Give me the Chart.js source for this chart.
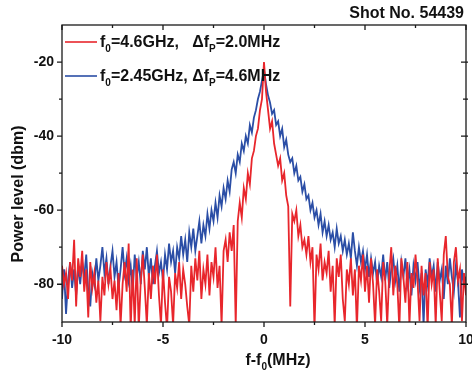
<!DOCTYPE html>
<html><head><meta charset="utf-8">
<script src="https://cdn.jsdelivr.net/npm/chart.js@4/dist/chart.umd.min.js"></script>
<style>html,body{margin:0;padding:0;background:#fff;}#wrap{width:472px;height:376px;}</style>
</head><body><div id="wrap"><canvas id="c" width="472" height="376"></canvas></div>
<script>
const freqMHz = [
-10,-9.9,-9.8,-9.7,-9.6,-9.5,-9.4,-9.3,-9.2,-9.1,
-9,-8.9,-8.8,-8.7,-8.6,-8.5,-8.4,-8.3,-8.2,-8.1,
-8,-7.9,-7.8,-7.7,-7.6,-7.5,-7.4,-7.3,-7.2,-7.1,
-7,-6.9,-6.8,-6.7,-6.6,-6.5,-6.4,-6.3,-6.2,-6.1,
-6,-5.9,-5.8,-5.7,-5.6,-5.5,-5.4,-5.3,-5.2,-5.1,
-5,-4.9,-4.8,-4.7,-4.6,-4.5,-4.4,-4.3,-4.2,-4.1,
-4,-3.9,-3.8,-3.7,-3.6,-3.5,-3.4,-3.3,-3.2,-3.1,
-3,-2.9,-2.8,-2.7,-2.6,-2.5,-2.4,-2.3,-2.2,-2.1,
-2,-1.9,-1.8,-1.7,-1.6,-1.5,-1.4,-1.3,-1.2,-1.1,
-1,-0.9,-0.8,-0.7,-0.6,-0.5,-0.4,-0.3,-0.2,-0.1,
0,0.1,0.2,0.3,0.4,0.5,0.6,0.7,0.8,0.9,
1,1.1,1.2,1.3,1.4,1.5,1.6,1.7,1.8,1.9,
2,2.1,2.2,2.3,2.4,2.5,2.6,2.7,2.8,2.9,
3,3.1,3.2,3.3,3.4,3.5,3.6,3.7,3.8,3.9,
4,4.1,4.2,4.3,4.4,4.5,4.6,4.7,4.8,4.9,
5,5.1,5.2,5.3,5.4,5.5,5.6,5.7,5.8,5.9,
6,6.1,6.2,6.3,6.4,6.5,6.6,6.7,6.8,6.9,
7,7.1,7.2,7.3,7.4,7.5,7.6,7.7,7.8,7.9,
8,8.1,8.2,8.3,8.4,8.5,8.6,8.7,8.8,8.9,
9,9.1,9.2,9.3,9.4,9.5,9.6,9.7,9.8,9.9,
10];

// f0 = 4.6 GHz (red)
const redLevel = [
-75,-80,-77,-84,-74,-79,-68,-86,-73,-78,
-71,-82,-76,-89,-74,-81,-77,-85,-79,-90,
-78,-83,-74,-80,-76,-84,-79,-87,-77,-91,
-80,-74,-82,-69,-92,-76,-91,-73,-92,-79,
-72,-81,-91,-77,-84,-75,-80,-72,-83,-91,
-76,-85,-92,-78,-82,-91,-77,-81,-74,-84,
-76,-80,-86,-91,-75,-82,-73,-79,-71,-84,
-76,-80,-72,-83,-74,-78,-70,-81,-75,-91,
-71,-68,-74,-66,-71,-64,-91,-63,-58,-62,
-54,-57,-50,-53,-46,-44,-40,-38,-33,-30,
-20,-28,-33,-38,-36,-42,-45,-48,-46,-52,
-50,-56,-59,-86,-61,-63,-60,-67,-64,-70,
-68,-72,-67,-74,-70,-92,-72,-76,-69,-79,
-74,-77,-71,-82,-75,-91,-73,-78,-72,-84,
-90,-76,-80,-73,-83,-76,-92,-75,-79,-72,
-82,-75,-85,-73,-80,-91,-76,-82,-90,-74,
-79,-91,-77,-70,-83,-75,-80,-92,-73,-78,
-85,-74,-91,-77,-81,-72,-79,-90,-75,-83,
-77,-92,-74,-80,-76,-91,-73,-82,-90,-72,
-67,-78,-80,-91,-74,-70,-79,-76,-90,-77,
-83];

// f0 = 2.45 GHz (blue)
const blueLevel = [
-84,-76,-88,-79,-74,-81,-76,-83,-75,-80,
-74,-78,-72,-82,-86,-77,-80,-73,-79,-75,
-70,-77,-73,-80,-75,-71,-78,-74,-81,-76,
-70,-77,-73,-79,-75,-82,-72,-78,-74,-80,
-71,-76,-70,-78,-73,-80,-75,-71,-77,-74,
-79,-72,-76,-69,-74,-71,-77,-70,-73,-67,
-72,-68,-74,-66,-70,-65,-71,-67,-63,-69,
-64,-67,-61,-65,-60,-63,-58,-62,-56,-59,
-54,-57,-52,-55,-49,-47,-50,-45,-47,-42,
-44,-40,-42,-37,-39,-35,-33,-30,-28,-25,
-22,-26,-29,-31,-34,-33,-37,-36,-40,-38,
-43,-41,-45,-47,-46,-50,-48,-52,-51,-55,
-53,-57,-56,-60,-58,-62,-60,-64,-61,-66,
-63,-67,-64,-68,-66,-70,-65,-69,-67,-71,
-68,-72,-69,-73,-66,-71,-75,-70,-74,-71,
-76,-72,-78,-73,-77,-74,-80,-75,-78,-72,
-79,-74,-81,-76,-73,-79,-75,-82,-74,-78,
-73,-80,-76,-83,-75,-79,-74,-81,-77,-91,
-76,-80,-73,-78,-75,-82,-74,-79,-76,-84,
-75,-80,-73,-78,-82,-75,-79,-89,-76,-80,
-78];

const xMajorTicks = [-10, -5, 0, 5, 10];
const xMinorTicks = [-7.5, -2.5, 2.5, 7.5];
const yMajorTicks = [-20, -40, -60, -80];
const yMinorTicks = [-30, -50, -70];

const chartTitle = 'Shot No. 54439';
const redLegend = [['f'], ['0', 1], ['=4.6GHz,   \u0394f'], ['P', 1], ['=2.0MHz']];
const blueLegend = [['f'], ['0', 1], ['=2.45GHz, \u0394f'], ['P', 1], ['=4.6MHz']];
const xTitle = [['f-f'], ['0', 1], ['(MHz)']];
const yTitle = 'Power level (dbm)';

const RED = '#e8262c';
const BLUE = '#2b4ea6';
const FONT = '"Liberation Sans", Arial, sans-serif';

function pts(vals) { return freqMHz.map((f, i) => ({x: f, y: vals[i]})); }

function richWidth(ctx, segs, size) {
  let w = 0;
  for (const s of segs) {
    ctx.font = 'bold ' + (s[1] ? Math.round(size * 0.6) : size) + 'px ' + FONT;
    w += ctx.measureText(s[0]).width;
  }
  return w;
}
function drawRich(ctx, segs, x, y, size, align) {
  let w = richWidth(ctx, segs, size);
  let cx = align === 'center' ? x - w / 2 : (align === 'right' ? x - w : x);
  ctx.textBaseline = 'alphabetic';
  ctx.textAlign = 'left';
  for (const s of segs) {
    const sz = s[1] ? Math.round(size * 0.6) : size;
    ctx.font = 'bold ' + sz + 'px ' + FONT;
    ctx.fillText(s[0], cx, s[1] ? y + size * 0.3 : y);
    cx += ctx.measureText(s[0]).width;
  }
}

const decor = {
  id: 'decor',
  afterDraw(chart) {
    const ctx = chart.ctx;
    const a = chart.chartArea;
    const xs = chart.scales.x, ys = chart.scales.y;
    ctx.save();
    ctx.strokeStyle = '#1a1a1a';
    ctx.lineWidth = 1.3;
    ctx.strokeRect(a.left, a.top, a.right - a.left, a.bottom - a.top);
    ctx.beginPath();
    const tick = (vals, len) => {
      for (const v of vals) {
        const px = xs.getPixelForValue(v);
        ctx.moveTo(px, a.bottom); ctx.lineTo(px, a.bottom + len);
        ctx.moveTo(px, a.top); ctx.lineTo(px, a.top + len);
      }
    };
    tick(xMajorTicks, 5); tick(xMinorTicks, 3);
    const ytick = (vals, len) => {
      for (const v of vals) {
        const py = ys.getPixelForValue(v);
        ctx.moveTo(a.left, py); ctx.lineTo(a.left - len, py);
        ctx.moveTo(a.right + 2, py); ctx.lineTo(a.right - len, py);
      }
    };
    ytick(yMajorTicks, 5); ytick(yMinorTicks, 3);
    ctx.stroke();

    ctx.fillStyle = '#111';
    ctx.font = 'bold 14px ' + FONT;
    ctx.textAlign = 'center';
    ctx.textBaseline = 'middle';
    for (const v of xMajorTicks) ctx.fillText(String(v), xs.getPixelForValue(v), 340);
    ctx.textAlign = 'right';
    for (const v of yMajorTicks) ctx.fillText(String(v), 54, ys.getPixelForValue(v));

    ctx.font = 'bold 16px ' + FONT;
    ctx.textAlign = 'right';
    ctx.textBaseline = 'alphabetic';
    ctx.fillText(chartTitle, 464, 18);

    // legend
    ctx.lineWidth = 1.6;
    ctx.strokeStyle = RED;
    ctx.beginPath(); ctx.moveTo(65, 42); ctx.lineTo(97, 42); ctx.stroke();
    ctx.strokeStyle = BLUE;
    ctx.beginPath(); ctx.moveTo(65, 76); ctx.lineTo(97, 76); ctx.stroke();
    ctx.fillStyle = '#111';
    drawRich(ctx, redLegend, 100, 47, 16, 'left');
    drawRich(ctx, blueLegend, 100, 81, 16, 'left');

    // axis titles
    drawRich(ctx, xTitle, 278, 365, 16, 'center');
    ctx.save();
    ctx.translate(23, 194);
    ctx.rotate(-Math.PI / 2);
    ctx.font = 'bold 16px ' + FONT;
    ctx.textAlign = 'center';
    ctx.textBaseline = 'alphabetic';
    ctx.fillText(yTitle, 0, 0);
    ctx.restore();
    ctx.restore();
  }
};

new Chart(document.getElementById('c'), {
  type: 'line',
  data: {
    datasets: [
      {data: pts(redLevel), borderColor: RED, borderWidth: 1.8, pointRadius: 0, tension: 0, fill: false},
      {data: pts(blueLevel), borderColor: BLUE, borderWidth: 1.8, pointRadius: 0, tension: 0, fill: false}
    ]
  },
  options: {
    responsive: false,
    animation: false,
    devicePixelRatio: 1,
    layout: {padding: {left: 0, top: 25, right: 6, bottom: 0}},
    plugins: {legend: {display: false}, tooltip: {enabled: false}, title: {display: false}},
    scales: {
      x: {
        type: 'linear', min: -10, max: 10,
        afterBuildTicks: s => { s.ticks = xMajorTicks.map(v => ({value: v})); },
        afterFit: s => { s.height = 54; },
        grid: {display: false}, border: {display: false},
        ticks: {display: false}
      },
      y: {
        type: 'linear', min: -90.2, max: -10,
        afterBuildTicks: s => { s.ticks = yMajorTicks.map(v => ({value: v})); },
        afterFit: s => { s.width = 62; },
        grid: {display: false}, border: {display: false},
        ticks: {display: false}
      }
    }
  },
  plugins: [decor]
});
</script></body></html>
